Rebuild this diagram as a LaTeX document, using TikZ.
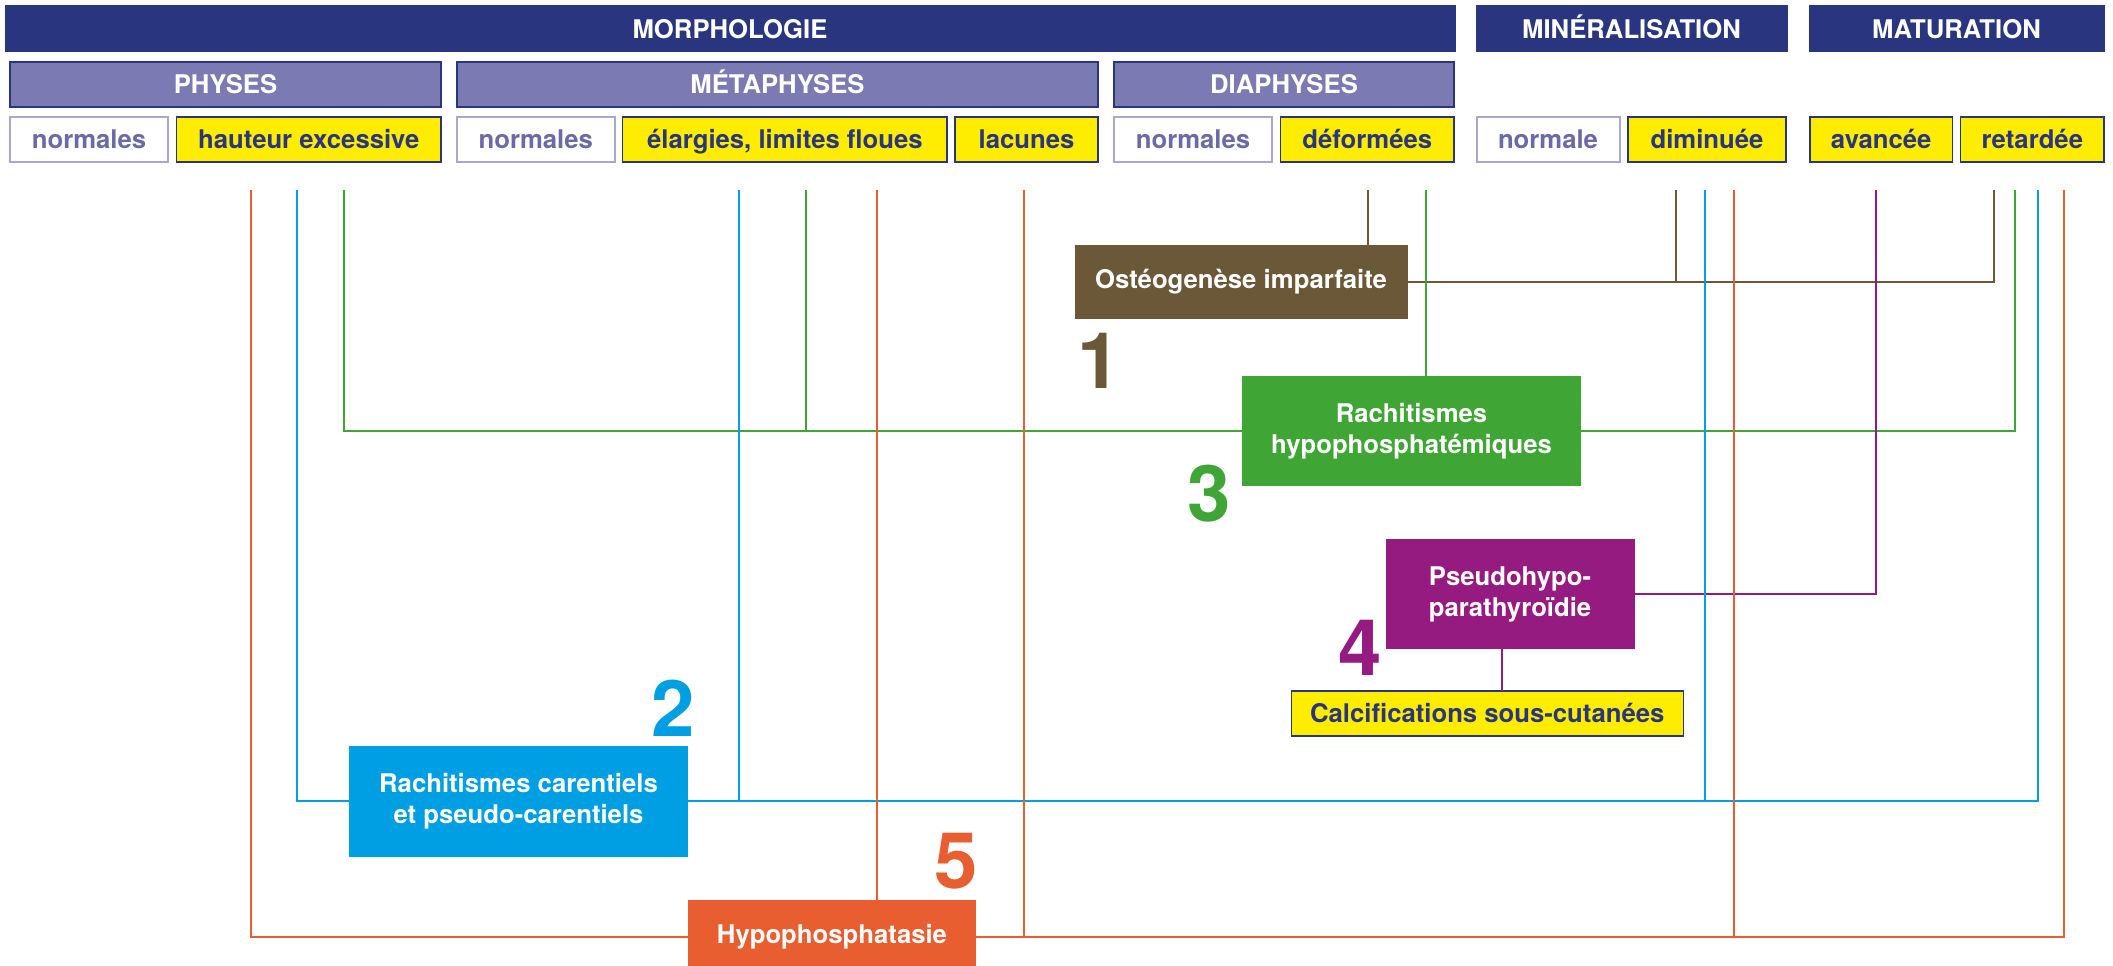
\documentclass[tikz,border=0pt]{standalone}
\usepackage{fontspec}
\setmainfont{TeX Gyre Heros}
\definecolor{dkblue}{HTML}{29367F}
\definecolor{lilac}{HTML}{7C7AB2}
\definecolor{lilacb}{HTML}{A9A7CF}
\definecolor{normtxt}{HTML}{6B69A8}
\definecolor{yel}{HTML}{FFED00}
\definecolor{cbrown}{HTML}{6B5839}
\definecolor{cgreen}{HTML}{3FA535}
\definecolor{cpurple}{HTML}{951B81}
\definecolor{cblue}{HTML}{009FE3}
\definecolor{cred}{HTML}{E95E30}
\newcommand{\hfnt}{\bfseries\fontsize{25.7pt}{31pt}\selectfont}
\newcommand{\nfnt}{\bfseries\fontsize{78pt}{78pt}\selectfont}
\tikzset{
  cell/.style={rectangle, inner sep=0pt, outer sep=0pt, font=\hfnt, text height=18.5pt, text depth=0pt, minimum height=45pt},
  hdr/.style={cell, fill=dkblue, draw=dkblue, line width=1pt, text=white, minimum height=46pt},
  sub/.style={cell, fill=lilac, draw=dkblue, line width=1.5pt, text=white},
  nbox/.style={cell, fill=white, draw=lilacb, line width=2pt, text=normtxt},
  ybox/.style={cell, fill=yel, draw=dkblue, line width=1.5pt, text=dkblue},
  dis/.style={rectangle, inner sep=0pt, outer sep=0pt, font=\hfnt, text=white, align=center},
  num/.style={font=\nfnt, anchor=base, inner sep=0pt},
  lnk/.style={line width=2pt}
}
\begin{document}
\begin{tikzpicture}[x=1pt,y=-1pt]
\useasboundingbox (0,0) rectangle (2113,966);
\clip (0,0) rectangle (2113,966);
\fill[white] (0,0) rectangle (2113,966);

% row 1
\node[hdr, minimum width=1450pt] (morph) at (730,29) {MORPHOLOGIE};
\node[hdr, minimum width=311pt] (miner) at (1631.5,29) {MINÉRALISATION};
\node[hdr, minimum width=295pt] (matur) at (1956.5,29) {MATURATION};
% row 2
\node[sub, minimum width=431pt] (phys) at (225.5,84.5) {PHYSES};
\node[sub, minimum width=641pt] (metaph) at (777.5,84.5) {MÉTAPHYSES};
\node[sub, minimum width=340pt] (diaph) at (1284,84.5) {DIAPHYSES};
% row 3
\node[nbox, minimum width=158pt] (n1) at (89,139.5) {normales};
\node[ybox, minimum width=264.5pt] (haut) at (308.75,139.5) {hauteur excessive};
\node[nbox, minimum width=157.6pt] (n2) at (535.8,139.5) {normales};
\node[ybox, minimum width=324.3pt] (elarg) at (784.85,139.5) {élargies, limites floues};
\node[ybox, minimum width=143pt] (lac) at (1026.5,139.5) {lacunes};
\node[nbox, minimum width=157.3pt] (n3) at (1193,139.5) {normales};
\node[ybox, minimum width=173.5pt] (defo) at (1367.25,139.5) {déformées};
\node[nbox, minimum width=143pt] (n4) at (1548,139.5) {normale};
\node[ybox, minimum width=158pt] (dimi) at (1707,139.5) {diminuée};
\node[ybox, minimum width=142.4pt] (avan) at (1881.2,139.5) {avancée};
\node[ybox, minimum width=143.5pt] (reta) at (2032.25,139.5) {retardée};

% disease boxes
\node[dis, fill=cbrown, minimum width=333pt, minimum height=74pt] (ost) at (1241,282) {Ostéogenèse imparfaite};
\node[dis, fill=cgreen, minimum width=339pt, minimum height=110pt] (hyp) at (1411.5,431) {Rachitismes\\hypophosphatémiques};
\node[dis, fill=cpurple, minimum width=249pt, minimum height=110pt] (pse) at (1510,594) {Pseudohypo-\\parathyroïdie};
\node[ybox, minimum width=392pt] (calc) at (1487.3,713.5) {Calcifications sous-cutanées};
\node[dis, fill=cblue, minimum width=339pt, minimum height=111pt] (car) at (518.5,801) {Rachitismes carentiels\\et pseudo-carentiels};
\node[dis, fill=cred, minimum width=287.4pt, minimum height=74pt] (hpp) at (832,937) {Hypophosphatasie};

% numbers
\node[num, text=cbrown] (k1) at (1099,388) {1};
\node[num, text=cblue] (k2) at (673,736.7) {2};
\node[num, text=cgreen] (k3) at (1209,521) {3};
\node[num, text=cpurple] (k4) at (1360,675) {4};
\node[num, text=cred] (k5) at (956.3,888.5) {5};

% line tops
\coordinate (rA) at (250.7,190);
\coordinate (rB) at (877.3,190);
\coordinate (rC) at (1024.2,190);
\coordinate (rD) at (1733.5,190);
\coordinate (rE) at (2063.5,190);
\coordinate (bA) at (296.6,190);
\coordinate (bB) at (738.5,190);
\coordinate (bC) at (1704.5,190);
\coordinate (bD) at (2038,190);
\coordinate (gA) at (343.6,190);
\coordinate (gB) at (805.9,190);
\coordinate (gC) at (1425.8,190);
\coordinate (gD) at (2015.3,190);
\coordinate (oA) at (1367.8,190);
\coordinate (oB) at (1676,190);
\coordinate (oC) at (1993.5,190);
\coordinate (pA) at (1875.9,190);
\coordinate (pV) at (1502,600);

% brown
\draw[lnk, cbrown] (oA) -- (oA |- ost.north);
\draw[lnk, cbrown] (ost.east) -| (oC);
\draw[lnk, cbrown] (oB) -- (oB |- ost.east);
% green
\draw[lnk, cgreen] (gA) |- (hyp.west);
\draw[lnk, cgreen] (gB) -- (gB |- hyp.west);
\draw[lnk, cgreen] (gC) -- (gC |- hyp.north);
\draw[lnk, cgreen] (hyp.east) -| (gD);
% purple
\draw[lnk, cpurple] (pse.east) -| (pA);
\draw[lnk, cpurple, line width=1.5pt] (pV |- pse.south) -- (pV |- calc.north);
% blue
\draw[lnk, cblue] (bA) |- (car.west);
\draw[lnk, cblue] (bB) -- (bB |- car.east);
\draw[lnk, cblue] (bC) -- (bC |- car.east);
\draw[lnk, cblue] (car.east) -| (bD);
% red
\draw[lnk, cred] (rA) |- (hpp.west);
\draw[lnk, cred] (rB) -- (rB |- hpp.north);
\draw[lnk, cred] (rC) -- (rC |- hpp.east);
\draw[lnk, cred] (rD) -- (rD |- hpp.east);
\draw[lnk, cred] (hpp.east) -| (rE);
\end{tikzpicture}
\end{document}
